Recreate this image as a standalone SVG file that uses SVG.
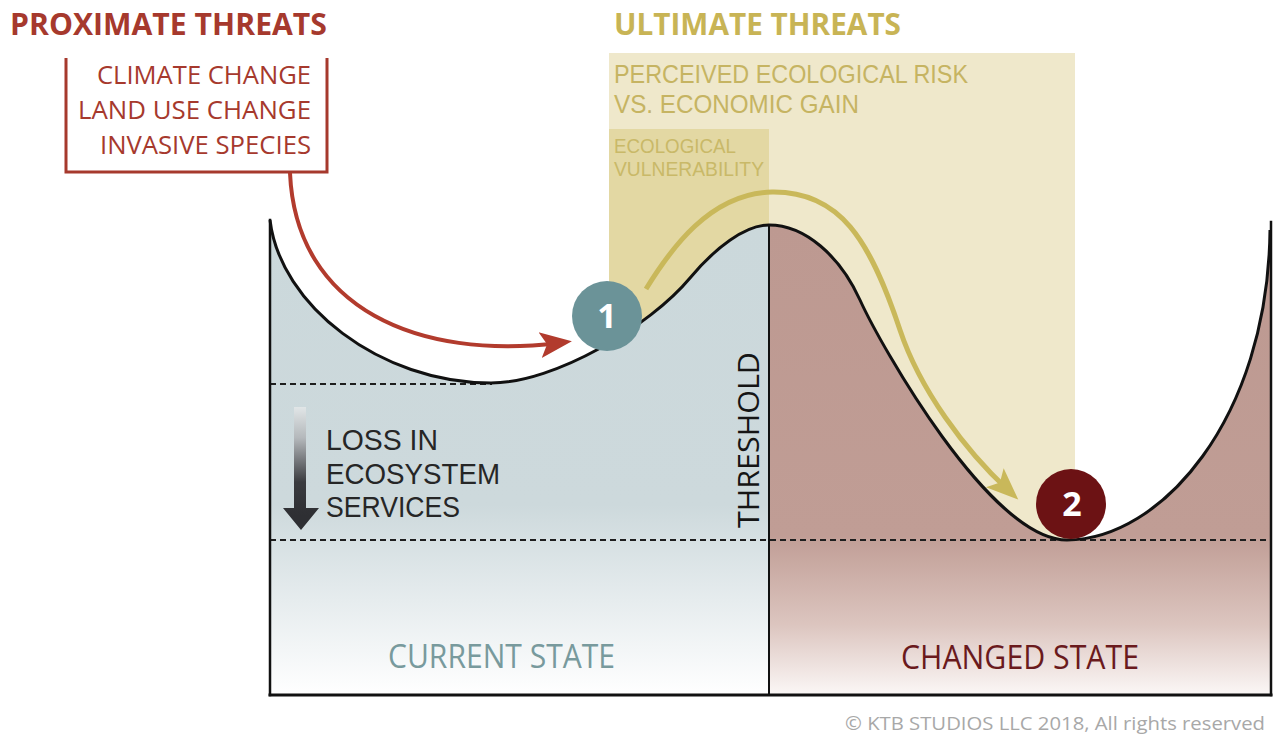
<svg xmlns="http://www.w3.org/2000/svg" width="1274" height="734" viewBox="0 0 1274 734">
<style>
text{font-family:"Open Sans","Liberation Sans",sans-serif;}
.tight{font-family:"Liberation Sans","Open Sans",sans-serif;}
.b{font-weight:700;}
.red{fill:#a6392d;}
.yel{fill:#c8b455;}
.tanT{fill:#c6b462;}
.dash{stroke:#1e1e1e;stroke-width:2;stroke-dasharray:6 4;fill:none;}
.wall{stroke:#111;fill:none;stroke-linecap:square;}
</style>
<defs>
<linearGradient id="gL" gradientUnits="userSpaceOnUse" x1="0" y1="220" x2="0" y2="695">
<stop offset="0" stop-color="#cbd8db"/>
<stop offset="0.6" stop-color="#cdd9dc"/>
<stop offset="0.8" stop-color="#e6ecee"/>
<stop offset="1" stop-color="#ffffff"/>
</linearGradient>
<linearGradient id="gR" gradientUnits="userSpaceOnUse" x1="0" y1="225" x2="0" y2="695">
<stop offset="0" stop-color="#bd9991"/>
<stop offset="0.66" stop-color="#c09d95"/>
<stop offset="0.85" stop-color="#dcc5bf"/>
<stop offset="1" stop-color="#fbf7f6"/>
</linearGradient>
<linearGradient id="gA" gradientUnits="userSpaceOnUse" x1="0" y1="405" x2="0" y2="515">
<stop offset="0" stop-color="#e4e9ea"/>
<stop offset="0.3" stop-color="#b4b8bb"/>
<stop offset="0.7" stop-color="#3a3b3f"/>
<stop offset="1" stop-color="#2e2f33"/>
</linearGradient>
<marker id="ahRed" markerUnits="userSpaceOnUse" viewBox="0 0 34 30" markerWidth="34" markerHeight="30" refX="18" refY="15" orient="auto">
<path d="M0,2 L32,15 L0,28 L7,15 z" fill="#b23b2d"/>
</marker>
<marker id="ahYel" markerUnits="userSpaceOnUse" viewBox="0 0 34 30" markerWidth="34" markerHeight="30" refX="18" refY="15" orient="auto">
<path d="M0,2 L32,15 L0,28 L7,15 z" fill="#c9b85a"/>
</marker>
</defs>

<rect width="1274" height="734" fill="#ffffff"/>

<g id="ultimate-threats">
<rect x="609" y="53" width="466" height="492" fill="#efe8cb"/>
<text class="b yel" x="614" y="35" font-size="31" textLength="287" lengthAdjust="spacingAndGlyphs">ULTIMATE THREATS</text>
<text class="tanT tight" font-size="25"><tspan x="614" y="83" textLength="354" lengthAdjust="spacingAndGlyphs">PERCEIVED ECOLOGICAL RISK</tspan><tspan x="614" y="113" textLength="245" lengthAdjust="spacingAndGlyphs">VS. ECONOMIC GAIN</tspan></text>
</g>
<g id="ecological-vulnerability">
<rect x="609" y="129" width="160" height="416" fill="#e3d8a3"/>
<text class="tight" fill="#c9b968" font-size="20"><tspan x="614" y="153" textLength="122" lengthAdjust="spacingAndGlyphs">ECOLOGICAL</tspan><tspan x="614" y="176" textLength="150" lengthAdjust="spacingAndGlyphs">VULNERABILITY</tspan></text>
</g>

<g id="current-state">
<path d="M270,220 C280,305 380,383 491,383 C555,383 650,326 690,278 C715,248 745,225 769,225 L769,695 L270,695 Z" fill="url(#gL)"/>
<text fill="#789a9d" x="388" y="668" font-size="32" textLength="227" lengthAdjust="spacingAndGlyphs">CURRENT STATE</text>
</g>
<g id="changed-state">
<path d="M769,225 C805,225 840,256 860,300 C880,344 990,540 1067,540 C1160,540 1268,420 1270,230 L1270,695 L769,695 Z" fill="url(#gR)"/>
<text fill="#6a1a1d" x="901" y="669" font-size="32" textLength="238" lengthAdjust="spacingAndGlyphs">CHANGED STATE</text>
</g>

<g id="levels">
<line class="dash" x1="270" y1="384" x2="492" y2="384"/>
<line class="dash" x1="270" y1="540" x2="1270" y2="540"/>
</g>

<g id="landscape">
<line class="wall" x1="270" y1="220" x2="270" y2="695" stroke-width="2.5"/>
<line class="wall" x1="1271" y1="222" x2="1271" y2="695" stroke-width="2.5"/>
<line class="wall" x1="270" y1="695" x2="1271" y2="695" stroke-width="3"/>
<path d="M270,220 C280,305 380,383 491,383 C555,383 650,326 690,278 C715,248 745,225 769,225 C805,225 840,256 860,300 C880,344 990,540 1067,540 C1160,540 1268,420 1270,230" fill="none" stroke="#111" stroke-width="3"/>
</g>

<g id="threshold">
<line x1="769" y1="225" x2="769" y2="695" stroke="#111" stroke-width="2"/>
<text fill="#151515" transform="translate(759,528) rotate(-90)" font-size="30" textLength="176" lengthAdjust="spacingAndGlyphs">THRESHOLD</text>
</g>

<g id="loss">
<path d="M294,407 H306 V508 H319 L301,530 L283,508 H294 Z" fill="url(#gA)"/>
<text class="tight" fill="#262626" font-size="29.5"><tspan x="326" y="450" textLength="112" lengthAdjust="spacingAndGlyphs">LOSS IN</tspan><tspan x="326" y="483.5" textLength="174" lengthAdjust="spacingAndGlyphs">ECOSYSTEM</tspan><tspan x="326" y="517" textLength="134" lengthAdjust="spacingAndGlyphs">SERVICES</tspan></text>
</g>

<g id="proximate-threats">
<text class="b red" x="10" y="35" font-size="31" textLength="317" lengthAdjust="spacingAndGlyphs">PROXIMATE THREATS</text>
<path d="M66,58 V172 H327 V58" fill="none" stroke="#a6392d" stroke-width="3"/>
<text class="red" font-size="26"><tspan x="97" y="84" textLength="214" lengthAdjust="spacingAndGlyphs">CLIMATE CHANGE</tspan><tspan x="78" y="119" textLength="233" lengthAdjust="spacingAndGlyphs">LAND USE CHANGE</tspan><tspan x="100" y="154" textLength="211" lengthAdjust="spacingAndGlyphs">INVASIVE SPECIES</tspan></text>
</g>

<g id="connectors">
<path d="M290,173 C296,310 420,360 558,343" fill="none" stroke="#b23b2d" stroke-width="4" marker-end="url(#ahRed)"/>
<path d="M646,289 C670,250 710,193 772,192 C840,191 870,240 900,330 C920,390 965,450 1008,490" fill="none" stroke="#c9b85a" stroke-width="5" marker-end="url(#ahYel)"/>
</g>

<g id="ball-1">
<circle cx="607" cy="316" r="35" fill="#6b9398"/>
<text class="b" fill="#ffffff" x="607" y="328" font-size="34" text-anchor="middle">1</text>
</g>
<g id="ball-2">
<circle cx="1071" cy="504" r="35" fill="#6c1214"/>
<text class="b" fill="#ffffff" x="1072" y="516" font-size="34" text-anchor="middle">2</text>
</g>

<text fill="#a8a8a8" x="845" y="730" font-size="18" textLength="420" lengthAdjust="spacingAndGlyphs">© KTB STUDIOS LLC 2018, All rights reserved</text>
</svg>
